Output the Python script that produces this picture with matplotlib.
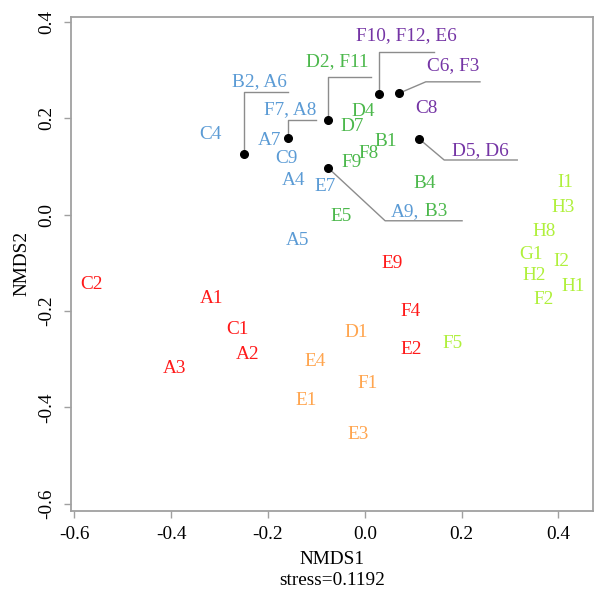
import matplotlib
matplotlib.use("Agg")
import matplotlib.pyplot as plt

plt.rcParams['font.family'] = ['Liberation Serif', 'DejaVu Serif']

# ---- data (NMDS scores) ----
red_labels = ["C2", "A1", "C1", "A2", "A3", "E9", "F4", "E2"]
red_x = [-0.564, -0.316, -0.263, -0.243, -0.394, 0.057, 0.095, 0.095]
red_y = [-0.146, -0.175, -0.238, -0.291, -0.320, -0.102, -0.201, -0.279]

orange_labels = ["D1", "E4", "F1", "E1", "E3"]
orange_x = [-0.017, -0.103, 0.005, -0.122, -0.013]
orange_y = [-0.245, -0.304, -0.351, -0.386, -0.455]

lime_labels = ["I1", "H3", "H8", "G1", "I2", "H2", "H1", "F2", "F5"]
lime_x = [0.415, 0.409, 0.370, 0.343, 0.407, 0.350, 0.430, 0.370, 0.182]
lime_y = [0.066, 0.015, -0.035, -0.082, -0.098, -0.127, -0.149, -0.176, -0.267]

blue_labels = ["C4", "A7", "C9", "A4", "E7", "A5"]
blue_x = [-0.318, -0.197, -0.161, -0.148, -0.081, -0.139]
blue_y = [0.166, 0.153, 0.116, 0.070, 0.058, -0.054]

green_labels = ["D4", "D7", "B1", "F8", "F9", "B4", "E5"]
green_x = [-0.003, -0.026, 0.044, 0.007, -0.027, 0.124, -0.048]
green_y = [0.213, 0.182, 0.151, 0.127, 0.108, 0.065, -0.004]

purple_labels = ["C8"]
purple_x = [0.128]
purple_y = [0.220]

# overlapping samples drawn as points with leader lines
group_labels = ["B2, A6", "F7, A8", "D2, F11", "F10, F12, E6", "C6, F3", "D5, D6", "A9, B3"]
group_x = [-0.250, -0.159, -0.077, 0.029, 0.070, 0.112, -0.075]
group_y = [0.125, 0.159, 0.196, 0.249, 0.251, 0.157, 0.096]

xticks = [-0.6, -0.4, -0.2, 0.0, 0.2, 0.4]
yticks = [-0.6, -0.4, -0.2, 0.0, 0.2, 0.4]
stress = 0.1192

# ---- styles ----
C_RED = "#FF1A1A"
C_ORANGE = "#FFA54F"
C_LIME = "#B0F03C"
C_BLUE = "#5B9BD5"
C_GREEN = "#4CB84C"
C_PURPLE = "#7535A5"
FS = 13.9

# leader layout: (knee point, end point, text anchor, colour)
leaders = [
    ((-0.250, 0.253), (-0.158, 0.253), (-0.218, 0.276), C_BLUE),
    ((-0.159, 0.195), (-0.101, 0.195), (-0.155, 0.217), C_BLUE),
    ((-0.077, 0.286), (0.012, 0.286), (-0.057, 0.317), C_GREEN),
    ((0.029, 0.337), (0.142, 0.337), (0.085, 0.371), C_PURPLE),
    ((0.126, 0.275), (0.238, 0.275), (0.183, 0.309), C_PURPLE),
    ((0.164, 0.113), (0.315, 0.113), (0.238, 0.132), C_PURPLE),
    ((0.042, -0.013), (0.201, -0.013), (0.112, 0.006), None),
]

fig = plt.figure(figsize=(5.94, 5.97), dpi=100)
ax = fig.add_axes([71 / 594, (597 - 510.5) / 597, 522 / 594, 493.8 / 597])

for labs, xs, ys, col in [
    (red_labels, red_x, red_y, C_RED),
    (orange_labels, orange_x, orange_y, C_ORANGE),
    (lime_labels, lime_x, lime_y, C_LIME),
    (blue_labels, blue_x, blue_y, C_BLUE),
    (green_labels, green_x, green_y, C_GREEN),
    (purple_labels, purple_x, purple_y, C_PURPLE),
]:
    for l, x, y in zip(labs, xs, ys):
        ax.text(x, y, l, color=col, fontsize=FS, ha='center', va='center')

for lab, px, py, (knee, end, tpos, col) in zip(group_labels, group_x, group_y, leaders):
    ax.plot([px, knee[0], end[0]], [py, knee[1], end[1]], color="#8C8C8C", lw=1.0, zorder=2)
    ax.plot(px, py, 'o', color='black', ms=5.5, zorder=3)
    if col is not None:
        ax.text(tpos[0], tpos[1], lab, color=col, fontsize=FS, ha='center', va='center')
    else:
        a, b = lab.split(", ")
        t1 = ax.text(0.0545, tpos[1], a + ",", color=C_BLUE, fontsize=FS, ha='left', va='center')
        ax.annotate(" " + b, xy=(1, 0), xycoords=t1, color=C_GREEN, fontsize=FS,
                    ha='left', va='bottom')

ax.set_xlim(-0.607, 0.4715)
ax.set_ylim(-0.6135, 0.410)
ax.set_xticks(xticks)
ax.set_yticks(yticks)
ax.set_xticklabels([f"{v:.1f}" for v in xticks], fontsize=FS)
ax.set_yticklabels([f"{v:.1f}" for v in yticks], fontsize=FS, rotation=90, va='center')
for s in ax.spines.values():
    s.set_color("#A0A0A0")
    s.set_linewidth(1.3)
ax.tick_params(axis='both', color="#A0A0A0", length=5, width=1.0)
ax.tick_params(axis='x', pad=6)
ax.tick_params(axis='y', pad=6)
ax.set_xlabel(f"NMDS1\nstress={stress}", fontsize=FS, linespacing=1.3, labelpad=6)
ax.set_ylabel("NMDS2", fontsize=FS, labelpad=6)

fig.savefig("out.png", dpi=100)
